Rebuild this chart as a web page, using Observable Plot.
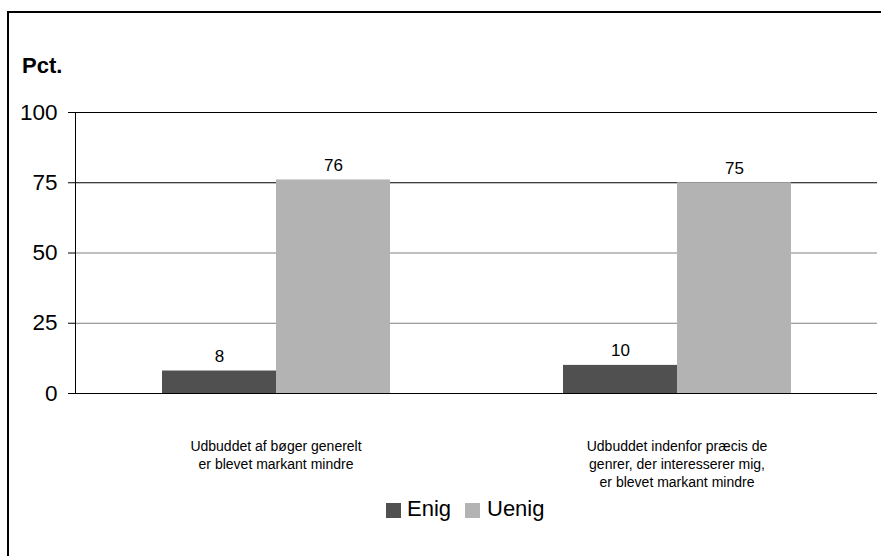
<!DOCTYPE html>
<html><head><meta charset="utf-8">
<script src="https://cdn.jsdelivr.net/npm/d3@7"></script>
<script src="https://cdn.jsdelivr.net/npm/@observablehq/plot@0.6"></script>
<style>
body{margin:0;background:#fff;overflow:hidden;font-family:"Liberation Sans",Arial,sans-serif}
#wrap{position:relative;width:881px;height:556px;overflow:hidden;background:#fff}
#frame{position:absolute;left:7px;top:11px;width:1000px;height:1000px;border-left:2px solid #000;border-top:2px solid #000;box-sizing:border-box}
#chart{position:absolute;left:0;top:0}
#ylab{position:absolute;left:22px;top:55px;font-weight:bold;font-size:22px;line-height:1;color:#000}
.sw{position:absolute;top:503px;width:15px;height:15px}
.lt{position:absolute;top:498px;font-size:22px;line-height:1;color:#000}
</style>
</head><body>
<div id="wrap">
<div id="frame"></div>
<div id="chart"></div>
<div id="ylab">Pct.</div>
<div id="legend"></div>
</div>
<script>
const categories = [
  "Udbuddet af bøger generelt\ner blevet markant mindre",
  "Udbuddet indenfor præcis de\ngenrer, der interesserer mig,\ner blevet markant mindre"
];
const series = ["Enig", "Uenig"];
const enig = [8, 10];
const uenig = [76, 75];
const yTicks = [0, 25, 50, 75, 100];
const colors = ["#505050", "#b3b3b3"];

const data = categories.flatMap((c, i) => [
  {cat: c, s: "Enig", v: enig[i]},
  {cat: c, s: "Uenig", v: uenig[i]}
]);

const chart = Plot.plot({
  width: 881, height: 490,
  marginLeft: 75, marginRight: 4, marginTop: 112, marginBottom: 97,
  style: {fontFamily: "'Liberation Sans', Arial, sans-serif", background: "transparent", color: "#000"},
  fx: {domain: categories, padding: 0, label: null},
  x: {domain: series, paddingInner: 0, paddingOuter: 0.75, axis: null},
  y: {domain: [0, 100], axis: null},
  color: {domain: series, range: colors},
  marks: [
    Plot.ruleY(yTicks.filter(d => d >= 75), {stroke: "#000"}),
    Plot.ruleY(yTicks.filter(d => d > 0 && d < 75), {stroke: "#808080"}),
    Plot.barY(data, {fx: "cat", x: "s", y: "v", fill: "s"}),
    Plot.ruleY([0], {stroke: "#000"}),
    Plot.frame({anchor: "left", facetAnchor: "left", stroke: "#000"}),
    Plot.axisY({ticks: yTicks, tickSize: 7, tickPadding: 11, fontSize: 22.5, label: null, stroke: "#000"}),
    Plot.text(data, {fx: "cat", x: "s", y: "v", text: "v", dy: -9, lineAnchor: "bottom", fontSize: 17, fill: "#000"}),
    Plot.axisFx({anchor: "bottom", tickSize: 0, tickPadding: 45, fontSize: 14, lineHeight: 1.29, label: null, fill: "#000"})
  ]
});
document.getElementById("chart").appendChild(chart);

const legend = document.getElementById("legend");
const swX = [386, 465];
const txX = [407, 487];
series.forEach((s, i) => {
  const sw = document.createElement("div");
  sw.className = "sw"; sw.style.left = swX[i] + "px"; sw.style.background = colors[i];
  legend.appendChild(sw);
  const t = document.createElement("div");
  t.className = "lt"; t.style.left = txX[i] + "px"; t.textContent = s;
  legend.appendChild(t);
});
</script>
</body></html>
